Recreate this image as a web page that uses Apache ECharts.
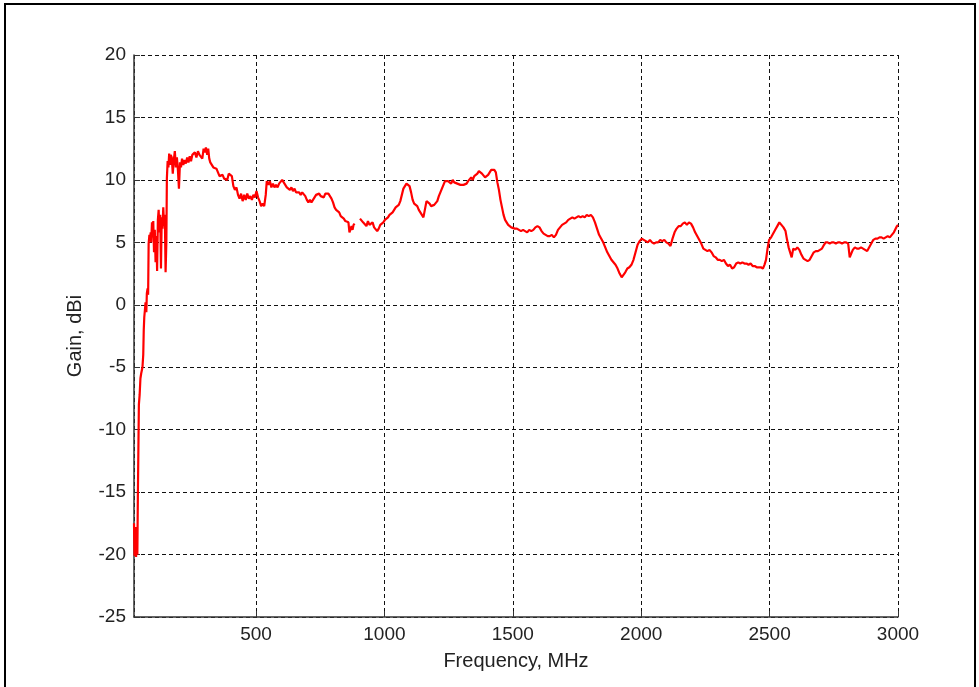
<!DOCTYPE html>
<html>
<head>
<meta charset="utf-8">
<title>Gain vs Frequency</title>
<script src="https://cdn.jsdelivr.net/npm/echarts@6/dist/echarts.min.js"></script>
<style>
  html, body { margin: 0; padding: 0; background: #fff; }
  #chart { width: 979px; height: 687px; }
</style>
</head>
<body>
<div id="chart"></div>
<script>
// Measured antenna gain (dBi) against frequency (MHz); null marks a gap in the sweep.
const freqMHz = [
  25, 27, 29, 31, 33, 35, 38, 40, 43, 44, 47, 50, 53, 58, 61, 63, 65, 68, 70, 73,
  75, 78, 80, 82, 85, 87, 90, 92, 95, 98, 100, 103, 106, 109, 112, 115, 118, 121, 124, 127,
  130, 133, 136, 139, 142, 145, 148, 151, 153, 156, 159, 162, 165, 168, 172, 176, 180, 184, 188, 192,
  196, 200, 204, 208, 212, 217, 222, 227, 232, 237, 242, 247, 252, 257, 262, 268, 274, 280, 286, 291,
  296, 300, 305, 310, 314, 318, 322, 328, 334, 340, 346, 352, 358, 364, 370, 376, 382, 388, 394, 400,
  406, 412, 418, 424, 430, 436, 442, 448, 454, 460, 466, 472, 478, 484, 490, 496, 502, 508, 514, 520,
  526, 532, 538, 542, 548, 554, 560, 566, 572, 578, 584, 590, 596, 602, 608, 614, 620, 626, 632, 638,
  644, 650, 656, 662, 668, 674, 680, 686, 692, 698, 704, 710, 716, 722, 728, 734, 740, 746, 752, 758,
  764, 770, 776, 782, 788, 794, 800, 806, 812, 818, 824, 830, 836, 842, 848, 854, 860, 864, 868, 872,
  876, 880, 884, 895, 905, 911, 917, 923, 930, 936, 942, 948, 954, 960, 966, 972, 978, 984, 990, 996,
  1002, 1008, 1014, 1020, 1026, 1032, 1038, 1044, 1050, 1056, 1062, 1068, 1074, 1080, 1086, 1092, 1098, 1104, 1110, 1116,
  1122, 1128, 1134, 1140, 1146, 1152, 1158, 1164, 1170, 1176, 1182, 1188, 1194, 1200, 1206, 1212, 1218, 1224, 1230, 1236,
  1242, 1248, 1254, 1260, 1266, 1272, 1278, 1284, 1290, 1296, 1302, 1308, 1314, 1320, 1326, 1332, 1338, 1344, 1350, 1356,
  1362, 1368, 1374, 1380, 1386, 1392, 1398, 1404, 1410, 1416, 1422, 1428, 1434, 1440, 1446, 1452, 1458, 1464, 1470, 1476,
  1482, 1488, 1494, 1500, 1508, 1516, 1524, 1532, 1540, 1548, 1556, 1564, 1572, 1580, 1588, 1596, 1604, 1612, 1620, 1628,
  1636, 1644, 1652, 1660, 1668, 1676, 1684, 1692, 1700, 1708, 1716, 1724, 1732, 1740, 1748, 1756, 1764, 1772, 1780, 1788,
  1796, 1804, 1812, 1820, 1828, 1836, 1844, 1852, 1860, 1868, 1876, 1884, 1892, 1900, 1908, 1916, 1924, 1930, 1938, 1946,
  1954, 1962, 1970, 1978, 1986, 1994, 2002, 2010, 2018, 2026, 2034, 2042, 2050, 2058, 2066, 2074, 2082, 2090, 2098, 2106,
  2114, 2122, 2130, 2138, 2146, 2154, 2162, 2170, 2178, 2186, 2194, 2202, 2210, 2218, 2226, 2234, 2242, 2250, 2258, 2266,
  2274, 2282, 2290, 2298, 2306, 2314, 2322, 2330, 2338, 2346, 2354, 2362, 2370, 2378, 2386, 2394, 2402, 2410, 2418, 2426,
  2434, 2442, 2450, 2458, 2466, 2474, 2480, 2486, 2492, 2498, 2506, 2514, 2522, 2530, 2538, 2546, 2554, 2562, 2568, 2574,
  2580, 2586, 2592, 2600, 2608, 2616, 2624, 2632, 2640, 2648, 2656, 2664, 2672, 2680, 2688, 2696, 2704, 2712, 2718, 2726,
  2734, 2742, 2750, 2758, 2766, 2774, 2782, 2790, 2798, 2806, 2812, 2818, 2824, 2832, 2840, 2848, 2856, 2864, 2872, 2880,
  2888, 2896, 2904, 2912, 2920, 2928, 2936, 2944, 2952, 2960, 2968, 2976, 2984, 2990, 2996, 3000
];

const gainDBi = [
  -17.5, -20.1, -19.6, -17.8, -20.2, -19.4, -20.0, -15.4, -15.3, -8.0, -7.2, -5.9, -5.5, -5.0, -4.0, -2.0, -1.0, -0.3, 0.2, -0.6,
  0.9, 1.3, 0.8, 4.9, 5.6, 5.2, 5.8, 5.0, 6.6, 5.4, 6.7, 4.2, 6.0, 3.4, 5.5, 2.7, 6.8, 7.6, 5.8, 7.2,
  2.9, 7.0, 6.1, 7.8, 6.3, 7.2, 2.6, 5.0, 10.1, 11.5, 11.0, 12.1, 11.2, 12.0, 11.8, 10.5, 11.6, 12.3, 11.0, 11.8,
  10.8, 9.3, 11.4, 11.0, 11.7, 11.2, 11.6, 11.3, 11.8, 11.4, 11.9, 11.5, 12.0, 11.9, 12.2, 11.8, 12.3, 12.0, 12.1, 11.7,
  12.5, 12.2, 12.6, 12.0, 12.5, 11.7, 11.4, 11.3, 11.0, 11.1, 10.9, 10.6, 10.3, 10.2, 10.4, 10.1, 10.2, 10.0, 10.5, 10.6,
  10.3, 9.5, 9.2, 9.4, 8.8, 8.5, 8.9, 8.3, 8.8, 8.4, 8.9, 8.5, 8.7, 8.4, 8.8, 8.6, 9.1, 8.6, 8.3, 7.9,
  8.1, 7.9, 8.8, 9.9, 9.6, 9.9, 9.4, 9.7, 9.4, 9.6, 9.4, 9.7, 9.8, 10.0, 9.8, 9.6, 9.4, 9.5, 9.2, 9.4,
  9.1, 9.3, 9.0, 9.1, 9.0, 8.8, 9.0, 8.9, 8.7, 8.4, 8.2, 8.4, 8.2, 8.3, 8.6, 8.8, 8.7, 8.9, 8.7, 8.8,
  8.6, 8.9, 8.8, 8.9, 9.0, 8.5, 8.2, 7.8, 7.6, 7.5, 7.4, 7.1, 7.0, 6.9, 6.7, 6.8, 6.6, 5.8, 5.7, 6.3,
  6.0, 6.4, 6.5, null, 6.9, 6.9, 6.6, 6.5, 6.3, 6.7, 6.4, 6.5, 6.6, 6.2, 6.1, 5.9, 6.1, 6.4, 6.5, 6.6,
  6.8, 6.8, 7.0, 7.2, 7.2, 7.4, 7.5, 7.8, 7.9, 8.0, 8.3, 8.8, 9.3, 9.5, 9.7, 9.6, 9.5, 9.0, 8.4, 8.1,
  8.0, 7.9, 7.6, 7.4, 7.4, 7.0, 6.9, 8.3, 8.4, 8.1, 7.9, 7.8, 8.0, 8.1, 8.3, 8.7, 9.0, 9.3, 9.6, 9.9,
  10.0, 9.9, 9.9, 9.7, 10.0, 9.8, 9.9, 9.7, 9.8, 9.6, 9.5, 9.6, 9.5, 9.7, 9.9, 10.0, 10.2, 10.0, 10.3, 10.4,
  10.5, 10.7, 10.6, 10.5, 10.4, 10.2, 10.1, 10.4, 10.6, 10.8, 10.7, 10.8, 10.6, 9.8, 9.2, 8.4, 7.8, 7.2, 6.8, 6.6,
  6.4, 6.3, 6.2, 6.2, 6.1, 6.1, 6.0, 5.9, 6.0, 5.9, 5.8, 6.0, 5.9, 6.0, 6.2, 6.3, 6.2, 5.9, 5.7, 5.6,
  5.5, 5.5, 5.6, 5.4, 5.6, 6.0, 6.2, 6.4, 6.5, 6.6, 6.8, 6.9, 7.0, 6.9, 7.0, 7.1, 7.0, 7.1, 7.0, 7.2,
  7.1, 7.2, 7.0, 6.6, 6.1, 5.6, 5.3, 5.0, 4.6, 4.2, 3.9, 3.6, 3.4, 3.2, 2.9, 2.5, 2.2, 2.3, 2.6, 2.9,
  3.0, 3.2, 3.6, 4.2, 4.8, 5.1, 5.3, 5.2, 5.1, 5.0, 5.2, 5.0, 4.9, 5.0, 5.0, 5.2, 5.1, 5.2, 5.0, 4.9,
  4.7, 5.3, 5.8, 6.1, 6.3, 6.3, 6.5, 6.6, 6.4, 6.6, 6.5, 6.2, 5.8, 5.5, 5.2, 4.9, 4.5, 4.4, 4.3, 4.4,
  4.2, 3.9, 3.8, 3.6, 3.6, 3.5, 3.6, 3.3, 3.1, 3.2, 2.9, 3.0, 3.3, 3.4, 3.3, 3.4, 3.3, 3.3, 3.2, 3.3,
  3.1, 3.1, 3.0, 3.0, 3.0, 2.9, 3.2, 3.6, 4.5, 5.2, 5.4, 5.7, 6.0, 6.3, 6.6, 6.4, 6.2, 5.9, 5.2, 4.6,
  4.2, 3.8, 4.5, 4.4, 4.6, 4.4, 4.0, 3.7, 3.6, 3.5, 3.6, 3.9, 4.2, 4.3, 4.3, 4.4, 4.5, 4.8, 5.0, 5.0,
  4.9, 5.0, 5.0, 4.9, 5.0, 5.0, 4.9, 5.0, 5.0, 4.9, 3.8, 3.7, 4.4, 4.6, 4.5, 4.5, 4.6, 4.5, 4.4, 4.3,
  4.6, 4.9, 5.2, 5.3, 5.3, 5.4, 5.4, 5.3, 5.4, 5.5, 5.4, 5.6, 5.8, 5.9, 6.3, 6.4
];

// Axis ranges and tick spacing
const freqRange = [25, 3000];
const freqTicks = [500, 1000, 1500, 2000, 2500, 3000];
const gainRange = [-25, 20];
const gainStep = 5;

const points = freqMHz.map((f, i) => [f, gainDBi[i] === null ? '-' : gainDBi[i]]);

const textColor = '#222';
const fontFamily = '"Liberation Sans", Arial, sans-serif';
const gridDash = { color: '#111', width: 1, type: [4, 3] };

const chart = echarts.init(document.getElementById('chart'), null, { renderer: 'canvas' });

chart.setOption({
  backgroundColor: '#fff',
  animation: false,
  grid: { left: 134, right: 81, top: 55, bottom: 70, containLabel: false },
  xAxis: {
    type: 'value',
    min: freqRange[0],
    max: freqRange[1],
    splitNumber: 6,
    name: 'Frequency, MHz',
    nameLocation: 'middle',
    nameGap: 34,
    nameTextStyle: { color: textColor, fontSize: 20, fontFamily },
    axisLine: { show: true, onZero: false, lineStyle: { color: '#333', width: 1.5 } },
    axisTick: { show: true, inside: true, length: 6, lineStyle: { color: '#333' } },
    axisLabel: {
      color: textColor, fontSize: 19, fontFamily, margin: 8,
      showMinLabel: false,
      formatter: v => (freqTicks.indexOf(v) >= 0 ? String(v) : '')
    },
    splitLine: { show: true, lineStyle: gridDash }
  },
  yAxis: {
    type: 'value',
    min: gainRange[0],
    max: gainRange[1],
    interval: gainStep,
    name: 'Gain, dBi',
    nameLocation: 'middle',
    nameGap: 49,
    nameTextStyle: { color: textColor, fontSize: 20, fontFamily },
    axisLine: { show: true, onZero: false, lineStyle: { color: '#333', width: 1.5 } },
    axisTick: { show: true, inside: true, length: 6, lineStyle: { color: '#333' } },
    axisLabel: { color: textColor, fontSize: 19, fontFamily, margin: 8 },
    splitLine: { show: true, lineStyle: gridDash }
  },
  series: [{
    type: 'line',
    data: points,
    showSymbol: false,
    connectNulls: false,
    lineStyle: { color: '#ff0000', width: 2.2 },
    itemStyle: { color: '#ff0000' },
    z: 5
  }],
  graphic: [{
    type: 'polyline',
    silent: true,
    shape: { points: [[5, 687], [5, 4], [975, 4], [975, 687]] },
    style: { stroke: '#000', lineWidth: 2, fill: null }
  }]
});
</script>
</body>
</html>
